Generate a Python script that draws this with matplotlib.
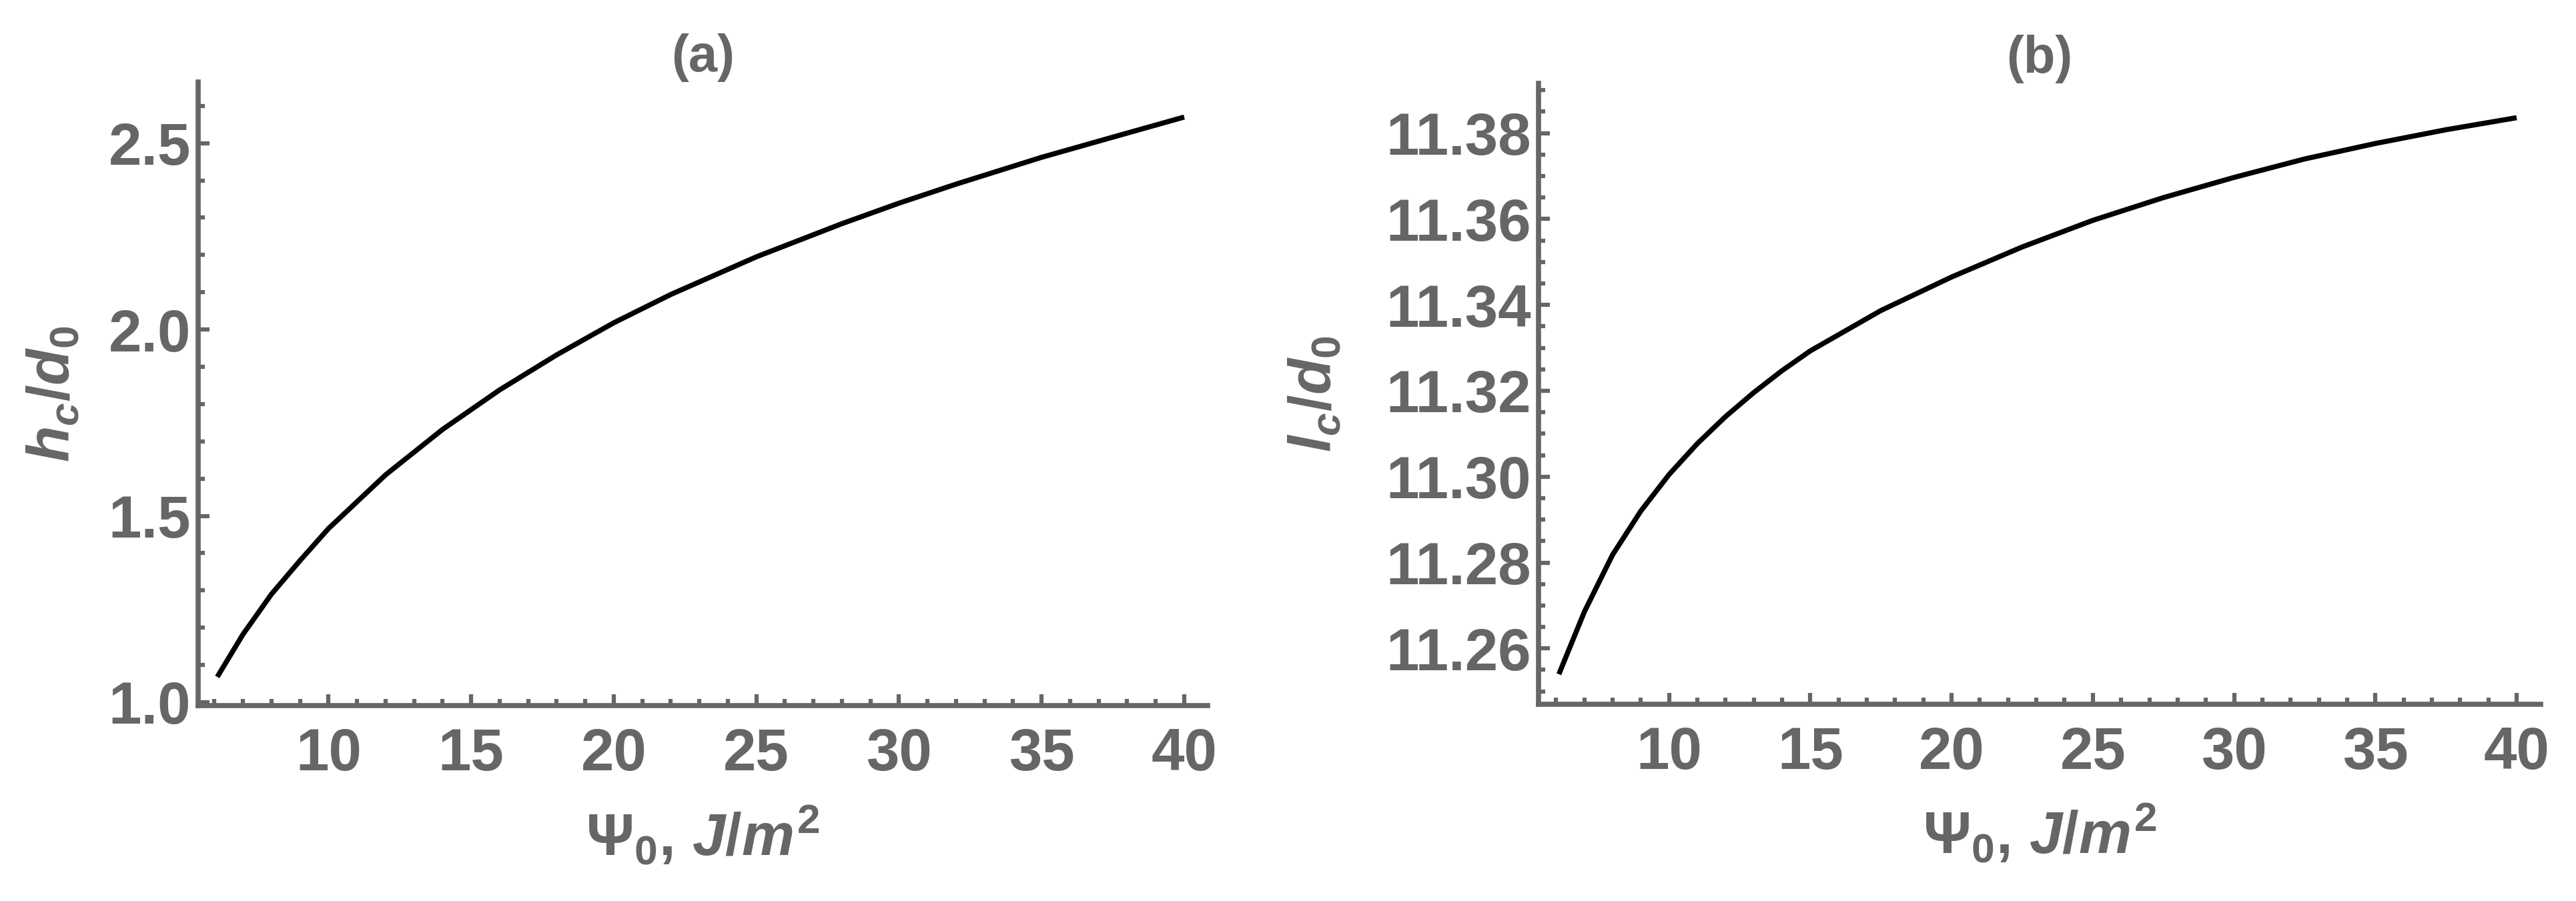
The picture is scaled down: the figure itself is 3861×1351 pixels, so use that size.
import matplotlib
matplotlib.use('Agg')
import matplotlib.pyplot as plt
from matplotlib.ticker import MultipleLocator, FormatStrFormatter

# values
psi_a = [6.1, 7, 8, 9, 10, 12, 14, 16, 18, 20, 22, 25, 28, 30, 32, 35, 38, 40]
hc = [1.068, 1.182, 1.290, 1.380, 1.466, 1.610, 1.732, 1.838, 1.932, 2.018,
      2.094, 2.195, 2.284, 2.339, 2.390, 2.462, 2.527, 2.570]

psi_b = [6.1, 7, 8, 9, 10, 11, 12, 13, 14, 15, 17.5, 20, 22.5, 25, 27.5, 30,
         32.5, 35, 37.5, 40]
lc = [11.2540, 11.2685, 11.2818, 11.2920, 11.3005, 11.3077, 11.3140, 11.3196,
      11.3247, 11.3293, 11.3387, 11.3465, 11.3535, 11.3597, 11.3650, 11.3697,
      11.3740, 11.3776, 11.3808, 11.3836]

titles = ['(a)', '(b)']
ylabels = [r'$h_c/d_0$', r'$l_c/d_0$']
xlabel = r'$\Psi_0$, $J/m^2$'

gray = '#666666'
plt.rcParams['font.family'] = ['Liberation Sans', 'DejaVu Sans']
plt.rcParams['font.weight'] = 'bold'
plt.rcParams['mathtext.fontset'] = 'custom'
plt.rcParams['mathtext.rm'] = 'Liberation Sans:bold'
plt.rcParams['mathtext.it'] = 'Liberation Sans:italic:bold'
plt.rcParams['mathtext.bf'] = 'Liberation Sans:bold'

W, H = 3862, 1351
fig = plt.figure(figsize=(W / 100, H / 100), dpi=100)
ax1 = fig.add_axes([297 / W, 1 - 1058 / H, 1513 / W, 935 / H])
ax2 = fig.add_axes([2306 / W, 1 - 1056 / H, 1502 / W, 931 / H])

ax1.plot(psi_a, hc, color='black', lw=5.5, solid_capstyle='butt',
         solid_joinstyle='round')
ax2.plot(psi_b, lc, color='black', lw=5.5, solid_capstyle='butt',
         solid_joinstyle='round')

ax1.set_xlim(5.43, 40.82)
ax1.set_ylim(0.991, 2.664)
ax2.set_xlim(5.38, 40.85)
ax2.set_ylim(11.247, 11.3916)

ax1.yaxis.set_major_locator(MultipleLocator(0.5))
ax1.yaxis.set_minor_locator(MultipleLocator(0.1))
ax1.yaxis.set_major_formatter(FormatStrFormatter('%.1f'))
ax2.yaxis.set_major_locator(MultipleLocator(0.02))
ax2.yaxis.set_minor_locator(MultipleLocator(0.005))
ax2.yaxis.set_major_formatter(FormatStrFormatter('%.2f'))

ylab_x = [-0.115, -0.194]
for i, ax in enumerate([ax1, ax2]):
    ax.xaxis.set_major_locator(MultipleLocator(5))
    ax.xaxis.set_minor_locator(MultipleLocator(1))
    for s in ['top', 'right']:
        ax.spines[s].set_visible(False)
    for s in ['left', 'bottom']:
        ax.spines[s].set_color(gray)
        ax.spines[s].set_linewidth(5.5)
        ax.spines[s].set_capstyle('projecting')
    ax.tick_params(which='both', direction='in', colors=gray, top=False, right=False)
    ax.tick_params(which='major', length=12, width=4.5, labelsize=64)
    ax.tick_params(which='minor', length=7.5, width=4.5)
    ax.tick_params(axis='x', which='major', pad=23)
    ax.tick_params(axis='y', which='major', pad=8)
    for lab in ax.get_xticklabels() + ax.get_yticklabels():
        lab.set_fontweight('bold')
    ax.set_title(titles[i], fontsize=56, color=gray, fontweight='bold', pad=2)
    ax.set_xlabel(xlabel, fontsize=64, color=gray, fontweight='bold')
    ax.set_ylabel(ylabels[i], fontsize=64, color=gray, fontweight='bold')
    ax.xaxis.set_label_coords(0.5, -0.159)
    ax.yaxis.set_label_coords(ylab_x[i], 0.5)

fig.savefig('out.png', dpi=100)
